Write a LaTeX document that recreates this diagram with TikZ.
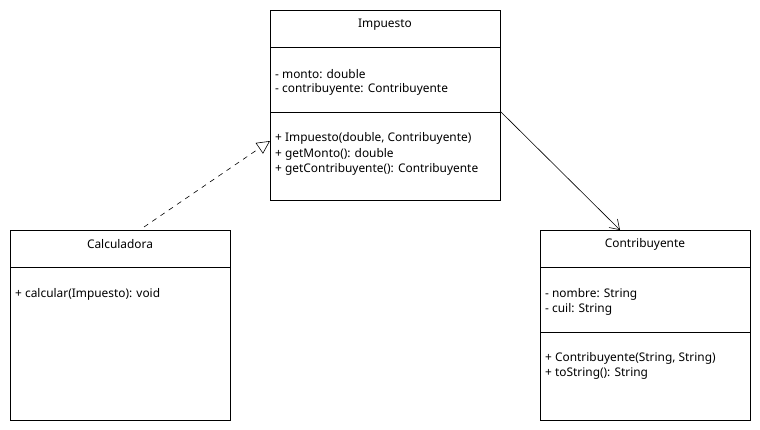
\documentclass[tikz,border=0pt]{standalone}
\usepackage{fontspec}
\setmainfont{Noto Sans}
\usetikzlibrary{arrows.meta}
\tikzset{
  classbox/.style={draw=black, line width=0.9pt, fill=white, inner sep=0pt},
  divider/.style={line width=0.9pt},
  member/.style={anchor=west, inner sep=0pt, yshift=-1pt, font=\fontsize{11.9}{13}\selectfont},
  title/.style={anchor=center, inner sep=0pt, yshift=-1pt, font=\fontsize{11.9}{13}\selectfont},
  realize/.style={dashed, dash pattern=on 5pt off 5pt, line width=0.6pt, -{Triangle[open, length=13pt, width=13pt]}},
  assoc/.style={line width=0.6pt, -{Straight Barb[length=9pt, width=12pt]}}
}
\begin{document}
\begin{tikzpicture}[x=1pt,y=-1pt]
\fill[white] (0,0) rectangle (760,430);
\useasboundingbox (0,0) rectangle (760,430);

% Impuesto
\node[classbox, minimum width=230pt, minimum height=190pt] (imp) at (385,105) {};
\draw[divider] (270,47) -- (500,47);
\draw[divider] (270,112) -- (500,112);
\node[title] (impT) at (385,24) {Impuesto};
\node[member] (impA1) at (275,73.5) {- monto: double};
\node[member] (impA2) at (275,88.5) {- contribuyente: Contribuyente};
\node[member] (impM1) at (275,137.5) {+ Impuesto(double, Contribuyente)};
\node[member] (impM2) at (275,153) {+ getMonto(): double};
\node[member] (impM3) at (275,168.5) {+ getContribuyente(): Contribuyente};

% Calculadora
\node[classbox, minimum width=220pt, minimum height=190pt] (calc) at (120,325) {};
\draw[divider] (10,267) -- (230,267);
\node[title] (calcT) at (120,243.5) {Calculadora};
\node[member] (calcM1) at (15,293.5) {+ calcular(Impuesto): void};

% Contribuyente
\node[classbox, minimum width=210pt, minimum height=190pt] (con) at (645,325) {};
\draw[divider] (540,267) -- (750,267);
\draw[divider] (540,332) -- (750,332);
\node[title] (conT) at (645,243.5) {Contribuyente};
\node[member] (conA1) at (545,293.5) {- nombre: String};
\node[member] (conA2) at (545,308.5) {- cuil: String};
\node[member] (conM1) at (545,357.5) {+ Contribuyente(String, String)};
\node[member] (conM2) at (545,373) {+ toString(): String};

% connectors
\coordinate (calcTop) at (144,227);
\coordinate (impLeft) at (270,141);
\coordinate (impRight) at (500,111);
\coordinate (conTop) at (620,230);
\draw[realize] (calcTop) -- (impLeft);
\draw[assoc] (impRight) -- (conTop);
\end{tikzpicture}
\end{document}
